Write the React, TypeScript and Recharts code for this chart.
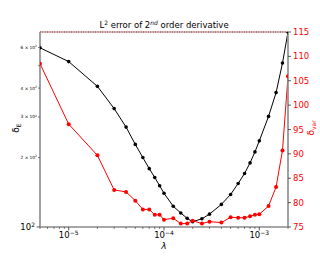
import { LineChart, Line, XAxis, YAxis, ReferenceLine } from 'recharts'

// regularisation parameter and the two error measures
const lambdas = [
  5e-6, 1e-5, 2e-5, 3e-5, 4e-5, 5e-5, 6e-5, 7e-5, 8e-5, 9e-5,
  1e-4, 1.25e-4, 1.5e-4, 1.75e-4, 2e-4, 2.5e-4, 3e-4, 4e-4, 5e-4, 6e-4,
  7e-4, 8e-4, 9e-4, 1e-3, 1.25e-3, 1.5e-3, 1.75e-3, 2e-3,
]
const deltaE = [
  598, 521, 407, 326, 271, 228, 200, 179, 164, 151,
  140, 123, 115, 109, 105.5, 108.5, 113.7, 125.3, 138.4, 154.4,
  170.6, 189.6, 211.6, 236.2, 301.5, 382.4, 513.4, 700,
]
const deltaVar = [
  108.5, 96.1, 89.7, 82.6, 82.2, 80.4, 78.6, 78.6, 77.5, 77.5,
  76.5, 76.8, 75.7, 75.7, 76.3, 75.7, 76.1, 75.9, 77.0, 76.9,
  76.9, 77.2, 77.5, 77.6, 79.3, 83.2, 90.7, 105.9,
]

const xMajor = [1e-5, 1e-4, 1e-3]
const xMajorExp = ['−5', '−4', '−3']
const xTicks = [
  5e-6, 6e-6, 7e-6, 8e-6, 9e-6,
  1e-5, 2e-5, 3e-5, 4e-5, 5e-5, 6e-5, 7e-5, 8e-5, 9e-5,
  1e-4, 2e-4, 3e-4, 4e-4, 5e-4, 6e-4, 7e-4, 8e-4, 9e-4,
  1e-3, 2e-3,
]
const leftTicks = [100, 200, 300, 400, 500, 600]
const leftMantissa: Record<number, string> = { 200: '2', 300: '3', 400: '4', 600: '6' }
const rightTicks = [75, 80, 85, 90, 95, 100, 105, 110, 115]

const data = lambdas.map((l, i) => ({ lambda: l, e: deltaE[i], v: deltaVar[i] }))

const P = { left: 40, right: 288, top: 32, bottom: 227 }
const SPINE = '#8a8a8a'
const FONT = 'DejaVu Sans'

const XTick = ({ x, payload }: any) => {
  const idx = xMajor.findIndex(m => Math.abs(m - payload.value) / m < 1e-6)
  if (idx < 0) {
    return <line x1={x} x2={x} y1={P.bottom} y2={P.bottom + 2} stroke="#333" strokeWidth={0.6} />
  }
  return (
    <g>
      <line x1={x} x2={x} y1={P.bottom} y2={P.bottom + 3.5} stroke="#333" strokeWidth={0.8} />
      <text x={x} y={P.bottom + 11} textAnchor="middle" fontFamily={FONT} fontSize={8.5} fill="#000">
        10<tspan dy={-3.5} fontSize={6}>{xMajorExp[idx]}</tspan>
      </text>
    </g>
  )
}

const LeftTick = ({ y, payload }: any) => {
  const v = payload.value
  if (v === 100) {
    return (
      <g>
        <line x1={P.left} x2={P.left - 3.5} y1={y} y2={y} stroke="#333" strokeWidth={0.8} />
        <text x={P.left - 5} y={y + 3} textAnchor="end" fontFamily={FONT} fontSize={8.5} fill="#000">
          10<tspan dy={-3.5} fontSize={6}>2</tspan>
        </text>
      </g>
    )
  }
  const m = leftMantissa[v]
  return (
    <g>
      <line x1={P.left} x2={P.left - 2} y1={y} y2={y} stroke="#333" strokeWidth={0.6} />
      {m && (
        <text x={P.left - 3} y={y + 1.5} textAnchor="end" fontFamily={FONT} fontSize={4.3} fill="#000">
          {m} × 10<tspan dy={-1.8} fontSize={3}>2</tspan>
        </text>
      )}
    </g>
  )
}

export default function App() {
  return (
    <div style={{ position: 'fixed', left: 0, top: 0, width: 320, height: 256, background: '#fff' }}>
      <LineChart width={320} height={256} data={data} margin={{ top: 32, right: 0, bottom: 0, left: 0 }}>
        <XAxis
          dataKey="lambda" type="number" scale="log" domain={[5e-6, 2e-3]} allowDataOverflow
          ticks={xTicks} interval={0} tick={XTick} tickLine={false} height={29}
          axisLine={{ stroke: SPINE, strokeWidth: 1.6 }}
        />
        <YAxis
          yAxisId="left" orientation="left" scale="log" domain={[100, 700]} allowDataOverflow
          ticks={leftTicks} interval={0} tick={LeftTick} tickLine={false} width={40}
          axisLine={{ stroke: SPINE, strokeWidth: 1.6 }}
        />
        <YAxis
          yAxisId="right" orientation="right" type="number" domain={[75, 115]} ticks={rightTicks} interval={0}
          width={32} tickSize={3} tickMargin={2}
          tick={{ fill: '#ff0000', fontSize: 8.5, fontFamily: FONT }}
          tickLine={{ stroke: '#333', strokeWidth: 0.8 }}
          axisLine={{ stroke: SPINE, strokeWidth: 1.6 }}
        />
        <ReferenceLine yAxisId="right" y={115} stroke="#e9a0a0" strokeWidth={1.3} />
        <ReferenceLine yAxisId="right" y={115} stroke="#666" strokeWidth={1.3} strokeDasharray="0.8 1.6" />
        <Line
          yAxisId="left" dataKey="e" stroke="#000" strokeWidth={1}
          dot={{ r: 1.8, fill: '#000', stroke: '#000', strokeWidth: 0 }} isAnimationActive={false}
        />
        <Line
          yAxisId="right" dataKey="v" stroke="#ff0000" strokeWidth={1}
          dot={{ r: 2, fill: '#ff0000', stroke: '#ff0000', strokeWidth: 0 }} isAnimationActive={false}
        />
      </LineChart>
      <svg width={320} height={256} style={{ position: 'absolute', left: 0, top: 0, pointerEvents: 'none' }}>
        <text x={164} y={28} textAnchor="middle" fontFamily={FONT} fontSize={8.5} fill="#000">
          L<tspan dy={-3.5} fontSize={6}>2</tspan>
          <tspan dy={3.5}> error of 2</tspan>
          <tspan dy={-3.5} fontSize={6} fontStyle="italic">nd</tspan>
          <tspan dy={3.5}> order derivative</tspan>
        </text>
        <text x={164} y={249} textAnchor="middle" fontFamily={FONT} fontSize={9} fontStyle="italic" fill="#000">λ</text>
        <text transform="translate(19,128) rotate(-90)" textAnchor="middle" fontFamily={FONT} fontSize={9} fill="#000">
          δ<tspan dy={2} fontSize={6}>E</tspan>
        </text>
        <text transform="translate(314,128) rotate(-90)" textAnchor="middle" fontFamily={FONT} fontSize={9} fill="#ff0000">
          δ<tspan dy={2} fontSize={6}>var</tspan>
        </text>
      </svg>
    </div>
  )
}
